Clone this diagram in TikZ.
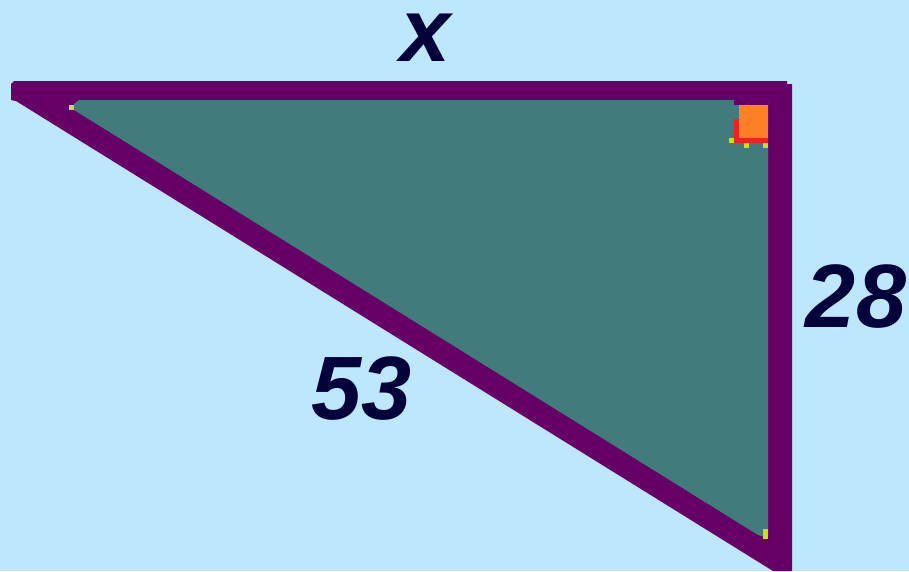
\documentclass[tikz,border=0pt]{standalone}
\usepackage{fontspec}
\setmainfont{Liberation Sans}
\definecolor{bg}{HTML}{BDE7FC}
\definecolor{edge}{HTML}{660066}
\definecolor{inside}{HTML}{417B7B}
\definecolor{sq}{HTML}{FF8026}
\definecolor{sqred}{HTML}{EE2222}
\definecolor{spark}{HTML}{C4E21E}
\definecolor{ink}{HTML}{03003A}
\begin{document}
\begin{tikzpicture}[x=1pt,y=-1pt,
  lbl/.style={text=ink,font=\fontsize{90}{90}\selectfont\bfseries\itshape,inner sep=0pt}]
\fill[bg] (0,0) rectangle (909,571);
\useasboundingbox (0,0) rectangle (909,571);
% outer (stroke) polygon
\fill[edge] (11,84) -- (14,81) -- (787,81) -- (787,84) -- (792,84) -- (792,571) -- (773,571) -- (16,101) -- (11,100) -- cycle;
% inner polygon
\fill[inside] (79,100) -- (768,100) -- (768,538) -- (758,535) -- (74,110) -- (74,104) -- cycle;
% right-angle marker
\fill[edge] (734,100) rectangle (768,105);
\fill[sqred] (734,119) rectangle (739,143);
\fill[sqred] (734,138) rectangle (768,143);
\fill[sq] (739,105) rectangle (768,138);
% small specks
\fill[spark] (729,138) rectangle (734,143);
\fill[spark] (744,143) rectangle (749,148);
\fill[spark] (763,143) rectangle (768,148);
\fill[spark] (69,105) rectangle (74,110);
\fill[spark] (763,529) rectangle (768,539);
% labels
\node[lbl] (lx) at (426,38) {x};
\node[lbl] (l28) at (856,297) {28};
\node[lbl] (l53) at (362,389) {53};
\end{tikzpicture}
\end{document}
